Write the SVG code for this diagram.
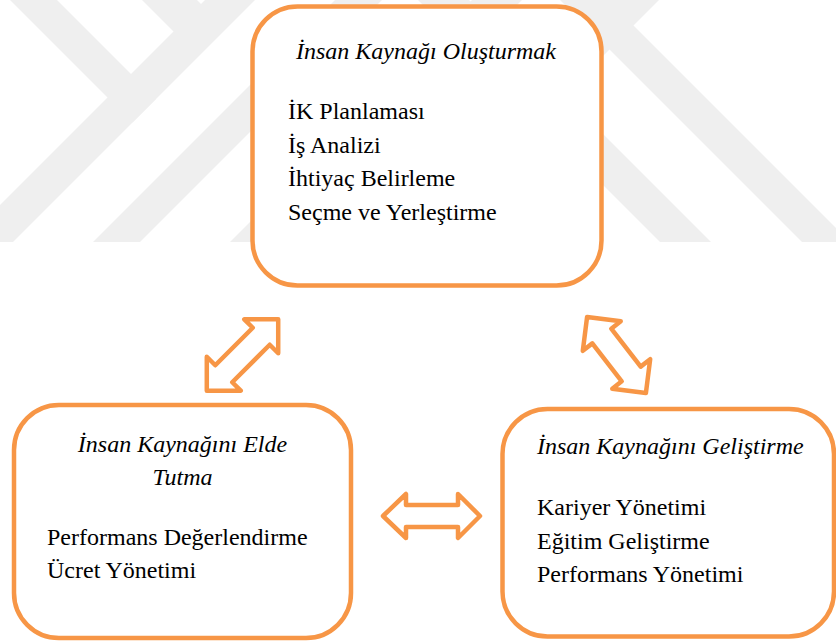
<svg xmlns="http://www.w3.org/2000/svg" width="836" height="643" viewBox="0 0 836 643">
  <defs>
    <style>
      .wm { fill: #efefef; }
      .box { fill: #ffffff; stroke: #f79646; stroke-width: 4.5; }
      .arr { fill: #ffffff; stroke: #f79646; stroke-width: 4.5; stroke-linejoin: round; }
      .t { font-family: 'Liberation Serif', 'DejaVu Serif', serif; font-size: 24px; fill: #000000; }
      .ti { font-style: italic; }
    </style>
    <clipPath id="wmclip"><rect x="0" y="0" width="836" height="242"/></clipPath>
  </defs>
  <rect x="0" y="0" width="836" height="643" fill="#ffffff"/>

  <g id="watermark" clip-path="url(#wmclip)">
    <polygon class="wm" points="10,0 57,0 156,99 132.5,122.5"/>
    <polygon class="wm" points="205,0 255,0 -50,305 -50,255"/>
    <polygon class="wm" points="142,0 197,0 215,18 187,45"/>
    <polygon class="wm" points="335,0 382,0 140,242 93,242"/>
    <polygon class="wm" points="472,0 522,0 280,242 230,242"/>
    <polygon class="wm" points="560,0 608,0 850,242 802,242"/>
    <polygon class="wm" points="600,0 659,0 540,119 481,119"/>
    <polygon class="wm" points="418,0 469,0 711,242 660,242"/>
  </g>

  <g id="connectors">
    <polygon class="arr" transform="translate(242.5,355) rotate(-45)" points="-50.5,0 -26.5,-24 -26.5,-12 26.5,-12 26.5,-24 50.5,0 26.5,24 26.5,12 -26.5,12 -26.5,24"/>
    <polygon class="arr" transform="translate(616.5,355) rotate(52.2)" points="-48,0 -24,-24 -24,-12 24,-12 24,-24 48,0 24,24 24,12 -24,12 -24,24"/>
    <polygon class="arr" points="383,516 406,494 406,505 458,505 458,494 480,516 458,538 458,527 406,527 406,538"/>
  </g>

  <g id="node-olusturmak" font-family="Liberation Serif, DejaVu Serif, serif">
    <rect class="box" x="252.5" y="6.5" width="349" height="279" rx="45" ry="45"/>
    <text class="t ti" x="426" y="59" text-anchor="middle">İnsan Kaynağı Oluşturmak</text>
    <text class="t" x="288" y="119">İK Planlaması</text>
    <text class="t" x="288" y="152.6">İş Analizi</text>
    <text class="t" x="288" y="186.2">İhtiyaç Belirleme</text>
    <text class="t" x="288" y="219.8">Seçme ve Yerleştirme</text>
  </g>

  <g id="node-elde-tutma">
    <rect class="box" x="14" y="405" width="337" height="233" rx="45" ry="45"/>
    <text class="t ti" x="182.5" y="452" text-anchor="middle">İnsan Kaynağını Elde</text>
    <text class="t ti" x="182.5" y="485" text-anchor="middle">Tutma</text>
    <text class="t" x="47" y="545">Performans Değerlendirme</text>
    <text class="t" x="47" y="578">Ücret Yönetimi</text>
  </g>

  <g id="node-gelistirme">
    <rect class="box" x="502.5" y="409" width="331.5" height="227.5" rx="45" ry="45"/>
    <text class="t ti" x="537" y="454">İnsan Kaynağını Geliştirme</text>
    <text class="t" x="537" y="515">Kariyer Yönetimi</text>
    <text class="t" x="537" y="548.5">Eğitim Geliştirme</text>
    <text class="t" x="537" y="582">Performans Yönetimi</text>
  </g>
</svg>
